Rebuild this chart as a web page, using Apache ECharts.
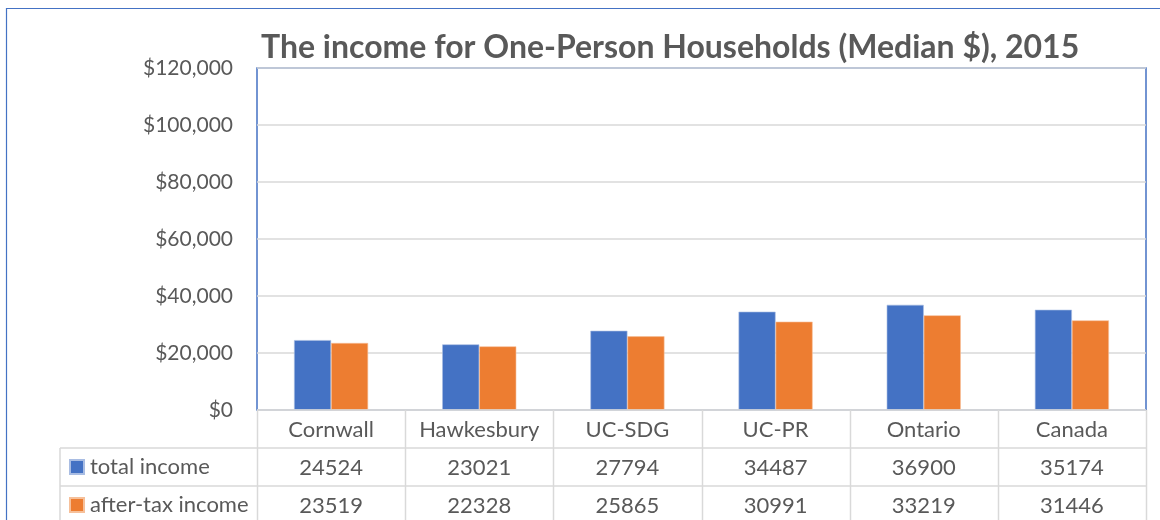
<!DOCTYPE html>
<html><head><meta charset="utf-8">
<script src="https://cdn.jsdelivr.net/npm/echarts@6/dist/echarts.min.js"></script>
<style>html,body{margin:0;padding:0;background:#fff}#c{width:1160px;height:520px}</style>
</head><body><div id="c"></div>
<script>
const categories = ['Cornwall', 'Hawkesbury', 'UC-SDG', 'UC-PR', 'Ontario', 'Canada'];
const totalIncome = [24524, 23021, 27794, 34487, 36900, 35174];
const afterTaxIncome = [23519, 22328, 25865, 30991, 33219, 31446];
const seriesNames = ['total income', 'after-tax income'];
const titleText = 'The income for One-Person Households (Median $), 2015';

const FONT = 'Lato, "Open Sans", sans-serif';
const TXT = '#595959';
const GL = 257, GR = 1146, GT = 68, GB = 410;
const ROW = 38, TL = 60, TB = 530;
const chart = echarts.init(document.getElementById('c'), null, {renderer: 'canvas'});

const lines = [];
const ln = (x1, y1, x2, y2, c, w) => lines.push({type: 'line', z: 5, shape: {x1, y1, x2, y2}, style: {stroke: c, lineWidth: w}});
const cw = (GR - GL) / categories.length;
for (let i = 0; i <= categories.length; i++) {
  const x = Math.round(GL + i * cw) + 0.5;
  ln(x, GB, x, TB, '#d9d9d9', 1.5);
}
ln(TL, GB + ROW, TL, TB, '#d9d9d9', 1.5);
ln(TL, GB + ROW, GR, GB + ROW, '#d9d9d9', 1.5);
ln(TL, GB + 2 * ROW, GR, GB + 2 * ROW, '#d9d9d9', 1.5);
ln(GL, GB, GR, GB, '#d9d9d9', 1.5);
lines.push({type: 'rect', z: 0, shape: {x: 6.5, y: 8.5, width: 1200, height: 600}, style: {fill: null, stroke: '#4472C4', lineWidth: 1.2}});

const valAxis = (data, off) => ({
  type: 'category', data: categories, position: 'bottom', offset: off,
  axisLine: {show: false}, axisTick: {show: false},
  axisLabel: {interval: 0, margin: 9, fontFamily: FONT, fontSize: 22, color: TXT, formatter: (v, i) => String(data[i])}
});

const legendFor = (name, top) => ({
  orient: 'horizontal', left: 69, top: top, itemWidth: 14, itemHeight: 14, icon: 'rect', padding: 0,
  textStyle: {fontFamily: FONT, fontSize: 22, color: TXT, padding: [0, 0, 0, 1]}, data: [name]
});

chart.setOption({
  animation: false,
  title: {text: titleText, left: 261, top: 32, padding: 0, textStyle: {fontFamily: FONT, fontSize: 32, fontWeight: 'bold', color: TXT}},
  grid: {left: GL, right: 1160 - GR, top: GT, bottom: 520 - GB, show: true, borderColor: '#4472C4', borderWidth: 1.5, containLabel: false},
  legend: [legendFor(seriesNames[0], GB + ROW + 8), legendFor(seriesNames[1], GB + 2 * ROW + 8)],
  xAxis: [
    {type: 'category', data: categories, axisLine: {show: false}, axisTick: {show: false},
      axisLabel: {interval: 0, margin: 9, fontFamily: FONT, fontSize: 22, color: TXT}},
    valAxis(totalIncome, ROW),
    valAxis(afterTaxIncome, 2 * ROW)
  ],
  yAxis: {type: 'value', min: 0, max: 120000, interval: 20000,
    axisLine: {show: false}, axisTick: {show: false},
    splitLine: {lineStyle: {color: '#d9d9d9', width: 1.5}},
    axisLabel: {margin: 24, fontFamily: FONT, fontSize: 21, color: TXT, formatter: v => '$' + v.toLocaleString('en-US')}},
  series: [
    {name: seriesNames[0], type: 'bar', data: totalIncome, barWidth: '25%', barGap: '0%', itemStyle: {color: '#4472C4', borderColor: '#a9bde3', borderWidth: 0.6}},
    {name: seriesNames[1], type: 'bar', data: afterTaxIncome, barWidth: '25%', barGap: '0%', itemStyle: {color: '#ED7D31', borderColor: '#f6c09a', borderWidth: 0.6}}
  ],
  graphic: lines
});
</script></body></html>
